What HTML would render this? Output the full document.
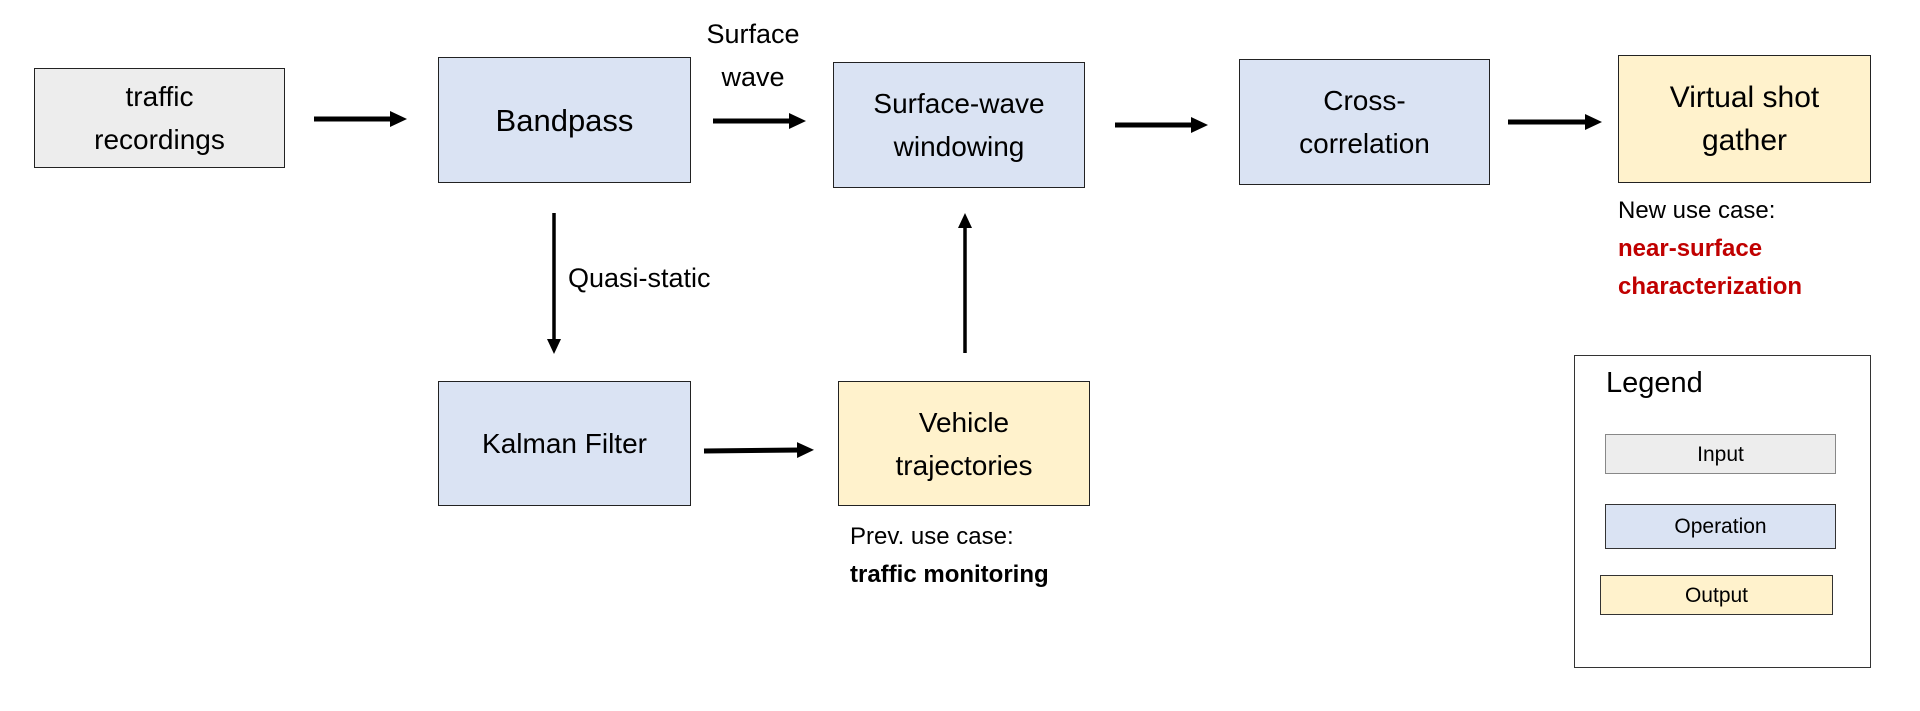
<!DOCTYPE html>
<html><head><meta charset="utf-8"><style>
body{margin:0;width:1920px;height:711px;background:#fff;position:relative;overflow:hidden;font-family:"Liberation Sans",sans-serif;color:#000}
.b{position:absolute;box-sizing:border-box;border:1.5px solid #222;display:flex;align-items:center;justify-content:center;text-align:center;font-size:28px;line-height:43px}
.g{background:#ededed}.o{background:#dae3f3}.y{background:#fff2cc}
.t{position:absolute;font-size:25px;line-height:38px;white-space:nowrap}
svg{position:absolute;left:0;top:0}
</style></head><body>
<div class="b g" style="left:34px;top:68px;width:251px;height:100px">traffic<br>recordings</div>
<div class="b o" style="left:438px;top:57px;width:253px;height:126px;font-size:31px">Bandpass</div>
<div class="b o" style="left:833px;top:62px;width:252px;height:126px">Surface-wave<br>windowing</div>
<div class="b o" style="left:1239px;top:59px;width:251px;height:126px">Cross-<br>correlation</div>
<div class="b y" style="left:1618px;top:55px;width:253px;height:128px;font-size:30px">Virtual shot<br>gather</div>
<div class="b o" style="left:438px;top:381px;width:253px;height:125px">Kalman Filter</div>
<div class="b y" style="left:838px;top:381px;width:252px;height:125px">Vehicle<br>trajectories</div>
<div class="t" style="left:695px;top:13px;width:116px;text-align:center;font-size:27px;line-height:43px">Surface<br>wave</div>
<div class="t" style="left:568px;top:259px;font-size:27px">Quasi-static</div>
<div class="t" style="left:850px;top:518px;font-size:24px">Prev. use case:<br><b>traffic monitoring</b></div>
<div class="t" style="left:1618px;top:192px;font-size:24px">New use case:<br><b style="color:#c00000">near-surface<br>characterization</b></div>
<div class="b" style="left:1574px;top:355px;width:297px;height:313px;border-color:#333;background:#fff"></div>
<div class="t" style="left:1606px;top:364px;font-size:29px">Legend</div>
<div class="b g" style="left:1605px;top:434px;width:231px;height:40px;font-size:21px;border-color:#888">Input</div>
<div class="b o" style="left:1605px;top:504px;width:231px;height:45px;font-size:21px;border-color:#333">Operation</div>
<div class="b y" style="left:1600px;top:575px;width:233px;height:40px;font-size:21px;border-color:#333">Output</div>
<svg width="1920" height="711">
<defs><marker id="a" markerUnits="userSpaceOnUse" markerWidth="17" markerHeight="18" refX="4" refY="9" orient="auto"><path d="M0,1L17,9L0,17z" fill="#000"/></marker>
<marker id="b" markerUnits="userSpaceOnUse" markerWidth="15" markerHeight="14" refX="4" refY="7" orient="auto"><path d="M0,0L15,7L0,14z" fill="#000"/></marker></defs>
<g stroke="#000" stroke-width="5" marker-end="url(#a)">
<line x1="314" y1="119" x2="394" y2="119"/>
<line x1="713" y1="121" x2="793" y2="121"/>
<line x1="1115" y1="125" x2="1195" y2="125"/>
<line x1="1508" y1="122" x2="1589" y2="122"/>
<line x1="704" y1="451" x2="801" y2="450"/>
</g>
<g stroke="#000" stroke-width="3.5" marker-end="url(#b)">
<line x1="554" y1="213" x2="554" y2="343"/>
<line x1="965" y1="353" x2="965" y2="224"/>
</g>
</svg>
</body></html>
